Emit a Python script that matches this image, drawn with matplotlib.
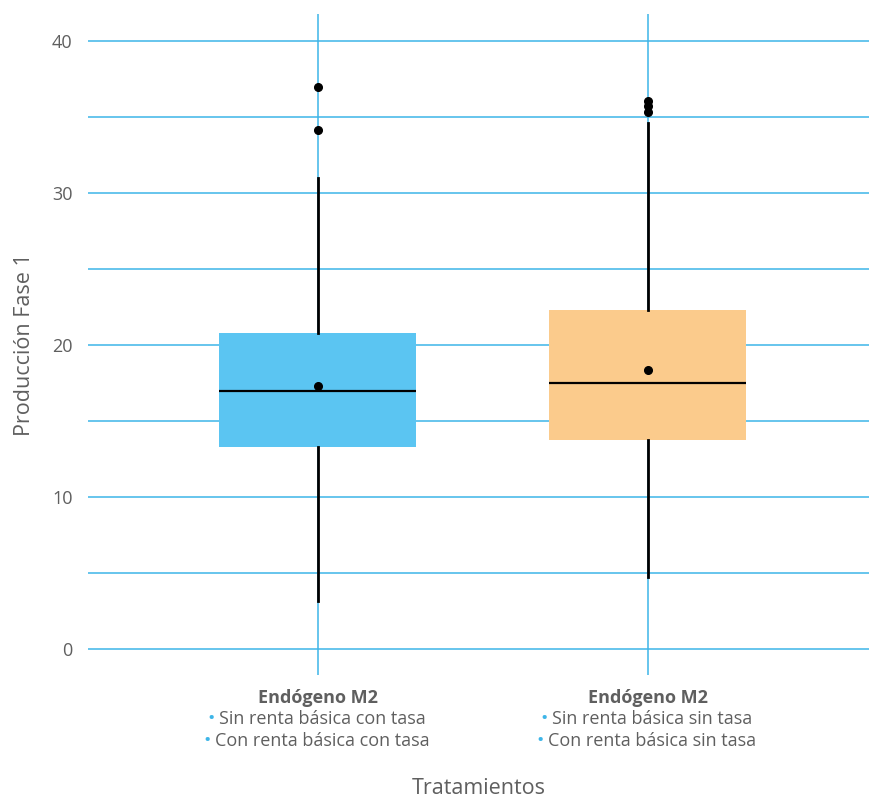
import matplotlib
matplotlib.use("Agg")
import matplotlib.pyplot as plt
from matplotlib.transforms import blended_transform_factory

plt.rcParams["font.family"] = ["Open Sans", "DejaVu Sans"]

# resumen de cada tratamiento (cuartiles, bigotes, media, atípicos)
grupos = ["Endógeno M2", "Endógeno M2"]
linea1 = ["Sin renta básica con tasa", "Sin renta básica sin tasa"]
linea2 = ["Con renta básica con tasa", "Con renta básica sin tasa"]
q1 = [13.3, 13.75]
mediana = [16.97, 17.5]
q3 = [20.8, 22.3]
bigote_inf = [3.15, 4.75]
bigote_sup = [31.0, 34.6]
media = [17.3, 18.35]
atipicos = [[34.15, 36.97], [35.33, 35.72, 36.05]]
colores = ["#5bc5f2", "#fbcb8c"]

AZUL = "#3db5e8"
GRIS = "#5f5f5f"

fig = plt.figure(figsize=(8.69, 8.0), dpi=100)
ax = fig.add_axes([88 / 869, 125 / 800, 781 / 869, 661 / 800])

pos = list(range(len(grupos)))
stats = []
for i in pos:
    stats.append(dict(q1=q1[i], med=mediana[i], q3=q3[i], whislo=bigote_inf[i],
                      whishi=bigote_sup[i], mean=media[i], fliers=atipicos[i]))

ax.set_xlim(-0.697, 1.67)
ax.set_ylim(-1.71, 41.78)
for y in range(0, 41, 5):
    ax.axhline(y, color=AZUL, lw=1.1, zorder=0)
for x in pos:
    ax.axvline(x, color=AZUL, lw=1.1, zorder=0)

bp = ax.bxp(stats, positions=pos, widths=0.597, patch_artist=True, showmeans=True,
            showcaps=False,
            boxprops=dict(linewidth=0),
            medianprops=dict(color="black", lw=1.6),
            whiskerprops=dict(color="black", lw=2),
            flierprops=dict(marker="o", markerfacecolor="black", markeredgecolor="black",
                            markersize=5.5),
            meanprops=dict(marker="o", markerfacecolor="black", markeredgecolor="black",
                           markersize=5.5))
for caja, c in zip(bp["boxes"], colores):
    caja.set_facecolor(c)
for art in bp["whiskers"] + bp["medians"] + bp["fliers"] + bp["means"]:
    art.set_zorder(3)

for s in ax.spines.values():
    s.set_visible(False)
ax.tick_params(length=0, labelsize=13, colors=GRIS, pad=11)
ax.set_yticks([0, 10, 20, 30, 40])
ax.set_xticks([])
ax.set_ylabel("Producción Fase 1", fontsize=15.5, color=GRIS, labelpad=12)

# etiquetas de categoría en tres líneas, viñeta azul en las dos últimas
tr = blended_transform_factory(ax.transData, fig.transFigure)
fig.canvas.draw()
ren = fig.canvas.get_renderer()
for i in pos:
    ax.text(i, 1 - 698 / 800, grupos[i], transform=tr, fontsize=13, color=GRIS,
            weight="bold", ha="center", va="center")
    for j, txt in enumerate([linea1[i], linea2[i]]):
        yy = 1 - (719 + 22 * j) / 800
        t = ax.text(i + 0.012, yy, txt, transform=tr, fontsize=13, color=GRIS,
                    ha="center", va="center")
        bb = t.get_window_extent(ren)
        ax.text(bb.x0 - 4, bb.y0 + bb.height / 2, "•", transform=None, fontsize=14,
                color=AZUL, ha="right", va="center")

fig.text((88 + 869) / 2 / 869, 1 - 788 / 800, "Tratamientos", fontsize=15.5,
         color=GRIS, ha="center", va="center")

fig.savefig("out.png", dpi=100)
